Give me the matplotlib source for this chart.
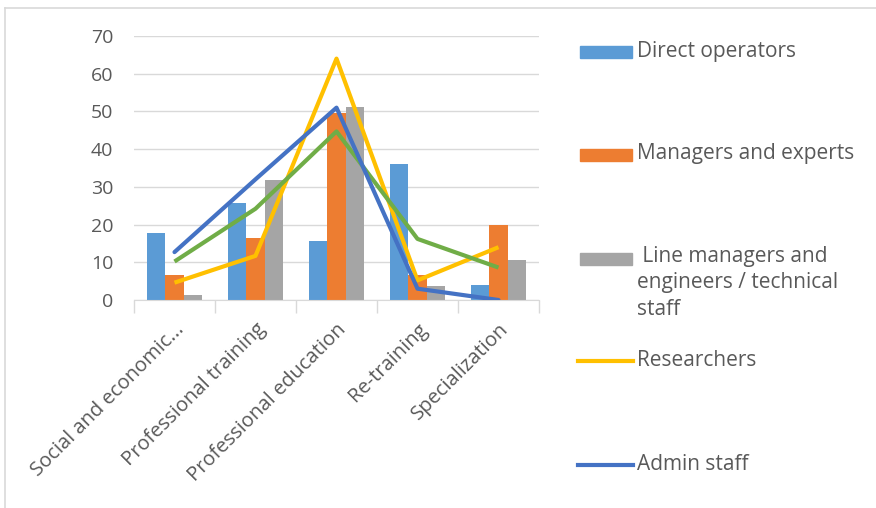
import matplotlib
matplotlib.use("Agg")
import matplotlib.pyplot as plt
from matplotlib.lines import Line2D
from matplotlib.patches import Rectangle
import numpy as np

plt.rcParams['font.family'] = ['Open Sans', 'DejaVu Sans']

categories = ["Social and economic...", "Professional training",
              "Professional education", "Re-training", "Specialization"]

direct_operators = [17.8, 25.8, 15.6, 36.0, 3.9]
managers_experts = [6.6, 16.4, 49.6, 6.5, 19.8]
line_managers = [1.3, 31.8, 51.2, 3.6, 10.5]
researchers = [4.6, 11.7, 64.0, 5.2, 14.0]
admin_staff = [12.7, 32.0, 51.0, 3.0, 0.0]
green_series = [10.2, 24.2, 44.7, 16.2, 8.6]

yticks = [0, 10, 20, 30, 40, 50, 60, 70]

C_BLUE = "#5B9BD5"
C_ORANGE = "#ED7D31"
C_GRAY = "#A5A5A5"
C_YELLOW = "#FFC000"
C_ADMIN = "#4472C4"
C_GREEN = "#70AD47"
TXT = "#595959"

W, H = 876, 508
fig = plt.figure(figsize=(W / 100, H / 100), dpi=100)

# plot area in pixel coordinates
left, right, top, bottom = 134, 539, 36, 300
ax = fig.add_axes([left / W, 1 - bottom / H, (right - left) / W, (bottom - top) / H])

x = np.arange(len(categories))
bw = 0.225
ax.bar(x - bw, direct_operators, bw, color=C_BLUE, zorder=2)
ax.bar(x, managers_experts, bw, color=C_ORANGE, zorder=2)
ax.bar(x + bw, line_managers, bw, color=C_GRAY, zorder=2)

lw = 3.0
ax.plot(x, researchers, color=C_YELLOW, lw=lw, zorder=3, solid_capstyle='butt')
ax.plot(x, green_series, color=C_GREEN, lw=lw, zorder=3, solid_capstyle='butt')
ax.plot(x, admin_staff, color=C_ADMIN, lw=lw, zorder=4, solid_capstyle='round')

ax.set_xlim(-0.5, len(categories) - 0.5)
ax.set_ylim(0, 70)
ax.set_yticks(yticks)
ax.set_yticklabels([str(v) for v in yticks], fontsize=14, color=TXT)
ax.yaxis.grid(True, color="#D9D9D9", lw=1, zorder=0)
ax.tick_params(axis='y', length=0, pad=15)

# category tick labels
ax.set_xticks(x)
ax.set_xticklabels(categories, rotation=45, ha='right', va='top',
                   rotation_mode='anchor', fontsize=14.5, color=TXT)
ax.tick_params(axis='x', which='major', length=0, pad=14)
# boundary tick marks between categories
ax.set_xticks(np.arange(-0.5, len(categories)), minor=True)
ax.tick_params(axis='x', which='minor', length=9, color="#D9D9D9", width=1)

for s in ['top', 'right', 'left']:
    ax.spines[s].set_visible(False)
ax.spines['bottom'].set_color("#D9D9D9")
ax.set_axisbelow(True)

# chart frame (top and left edges)
fig.add_artist(Line2D([5 / W, 5 / W], [0, 1 - 8 / H], color="#D9D9D9", lw=1.2,
                      transform=fig.transFigure))
fig.add_artist(Line2D([5 / W, 1], [1 - 8 / H, 1 - 8 / H], color="#D9D9D9", lw=1.2,
                      transform=fig.transFigure))

# legend drawn at right
legend_items = [
    ("bar", C_BLUE, "Direct operators", 52),
    ("bar", C_ORANGE, "Managers and experts", 155),
    ("bar", C_GRAY, " Line managers and\nengineers / technical\nstaff", 259),
    ("line", C_YELLOW, "Researchers", 361),
    ("line", C_ADMIN, "Admin staff", 465),
]
LEG_FS = 15
for kind, col, label, ypix in legend_items:
    yf = 1 - ypix / H
    if kind == "bar":
        fig.add_artist(Rectangle((580 / W, yf - 6 / H), 52 / W, 12 / H,
                                 color=col, transform=fig.transFigure))
    else:
        fig.add_artist(Line2D([578 / W, 633 / W], [yf, yf], color=col, lw=3.0,
                              transform=fig.transFigure))
    if '\n' in label:
        fig.text(637 / W, yf + 13 / H, label, fontsize=LEG_FS, color=TXT, va='top',
                 ha='left', linespacing=1.33, transform=fig.transFigure)
    else:
        fig.text(637 / W, yf + 1 / H, label, fontsize=LEG_FS, color=TXT, va='center',
                 ha='left', transform=fig.transFigure)

fig.savefig("out.png", dpi=100, facecolor="white")
